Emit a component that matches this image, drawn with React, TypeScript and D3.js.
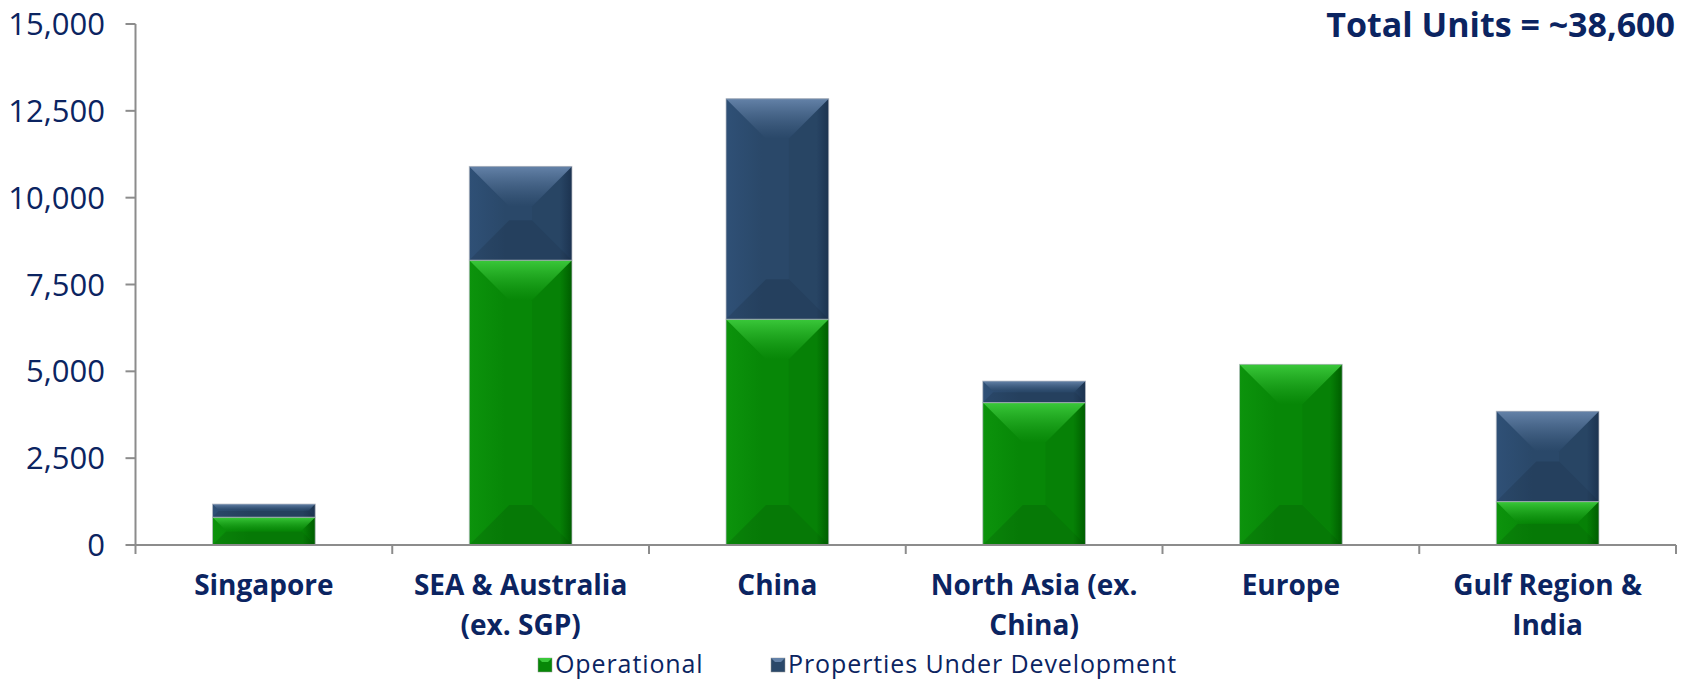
import React from 'react';
import * as d3 from 'd3';

const categories = ['Singapore', 'SEA & Australia (ex. SGP)', 'China', 'North Asia (ex. China)', 'Europe', 'Gulf Region & India'];
const categoryLines = [['Singapore'], ['SEA & Australia', '(ex. SGP)'], ['China'], ['North Asia (ex.', 'China)'], ['Europe'], ['Gulf Region &', 'India']];
const operational = [800, 8200, 6500, 4100, 5200, 1250];
const underDevelopment = [380, 2700, 6350, 620, 0, 2600];
const seriesNames = ['Operational', 'Properties Under Development'];
const yTicks = [0, 2500, 5000, 7500, 10000, 12500, 15000];
const title = 'Total Units = ~38,600';

const W = 1698;
const H = 682;
const left = 135.5;
const right = 1676;
const top = 24;
const bottom = 545;
const navy = '#0b2461';
const font = "'Open Sans', 'DejaVu Sans', sans-serif";

const palettes = [
  { base: '#078707', light: '#3ac83a', edgeL: '#0c930c', dark: '#006200' },
  { base: '#2a4869', light: '#6482a8', edgeL: '#2f5076', dark: '#1e3654' },
];

export default function App() {
  const y = d3.scaleLinear().domain([0, 15000]).range([bottom, top]);
  const x = d3.scaleBand<string>().domain(categories).range([left, right]).paddingInner(0.6).paddingOuter(0.3);
  const rows = categories.map((c, i) => ({ cat: c, op: operational[i], dev: underDevelopment[i] }));
  const stack = d3.stack<any>().keys(['op', 'dev'])(rows);
  const fmt = d3.format(',');
  const step = x.step();
  const boundaries = d3.range(categories.length + 1).map((i) => left + i * step);

  const segment = (k: number, key: string, xs: number, y0: number, y1: number) => {
    const w = x.bandwidth();
    const h = y0 - y1;
    if (h <= 0.5) return null;
    const d = Math.max(0, Math.min(40, h / 2 - 0.5, w / 2 - 4));
    const xa = xs, xb = xs + w, ya = y1, yb = y0;
    return (
      <g key={key}>
        <rect x={xa} y={ya} width={w} height={h} fill={`url(#h${k})`} />
        <polygon points={`${xa},${ya} ${xb},${ya} ${xb - d},${ya + d} ${xa + d},${ya + d}`} fill={`url(#t${k})`} />
        <polygon points={`${xa},${yb} ${xb},${yb} ${xb - d},${yb - d} ${xa + d},${yb - d}`} fill="#000" opacity={0.1} />
        <polygon points={`${xb},${ya} ${xb},${yb} ${xb - d},${yb - d} ${xb - d},${ya + d}`} fill="#000" opacity={0.04} />
        <rect x={xa} y={ya} width={w} height={h} fill="none" stroke="#b8bcc4" strokeOpacity={0.7} strokeWidth={1} />
      </g>
    );
  };

  return (
    <svg width={W} height={H} style={{ position: 'absolute', left: 0, top: 0, background: '#fff' }} fontFamily={font}>
      <defs>
        {palettes.map((p, k) => (
          <React.Fragment key={k}>
            <linearGradient id={`h${k}`} x1="0" x2="1" y1="0" y2="0">
              <stop offset="0%" stopColor={p.edgeL} />
              <stop offset="35%" stopColor={p.base} />
              <stop offset="88%" stopColor={p.base} />
              <stop offset="100%" stopColor={p.dark} />
            </linearGradient>
            <linearGradient id={`t${k}`} x1="0" x2="0" y1="0" y2="1">
              <stop offset="0%" stopColor={p.light} />
              <stop offset="100%" stopColor={p.base} stopOpacity={0.6} />
            </linearGradient>
          </React.Fragment>
        ))}
      </defs>

      {/* title */}
      <text x={1675} y={37} textAnchor="end" fontSize={34} fontWeight="bold" fill={navy}>{title}</text>

      {/* bars */}
      {stack.map((s, k) =>
        s.map((d, i) => segment(k, `${k}-${i}`, x(categories[i]) as number, y(d[0]), y(d[1])))
      )}

      {/* y axis */}
      <line x1={left} x2={left} y1={top} y2={bottom} stroke="#8c8c8c" strokeWidth={2} />
      {yTicks.map((t) => (
        <g key={t}>
          <line x1={left - 10} x2={left} y1={y(t)} y2={y(t)} stroke="#8c8c8c" strokeWidth={2} />
          <text x={105} y={y(t)} dy="0.36em" textAnchor="end" fontSize={31} fill={navy}>{fmt(t)}</text>
        </g>
      ))}

      {/* x axis */}
      <line x1={left} x2={right} y1={bottom} y2={bottom} stroke="#8c8c8c" strokeWidth={2} />
      {boundaries.map((b, i) => (
        <line key={i} x1={b} x2={b} y1={bottom} y2={bottom + 9} stroke="#8c8c8c" strokeWidth={2} />
      ))}
      {categories.map((c, i) => (
        <text key={c} x={(x(c) as number) + x.bandwidth() / 2} textAnchor="middle" fontSize={28} fontWeight="bold" fill={navy}>
          {categoryLines[i].map((ln, j) => (
            <tspan key={j} x={(x(c) as number) + x.bandwidth() / 2} y={595 + j * 40}>{ln}</tspan>
          ))}
        </text>
      ))}

      {/* legend */}
      {seriesNames.map((n, k) => {
        const lx = k === 0 ? 538 : 771;
        return (
          <g key={n}>
            <rect x={lx} y={658} width={14} height={14} fill={palettes[k].base} stroke="#999" strokeWidth={0.5} />
            <polygon points={`${lx},658 ${lx + 14},658 ${lx + 10},662 ${lx + 4},662`} fill={palettes[k].light} />
            <text x={lx + 17} y={673} fontSize={25} letterSpacing={0.9} fill={navy}>{n}</text>
          </g>
        );
      })}
    </svg>
  );
}
